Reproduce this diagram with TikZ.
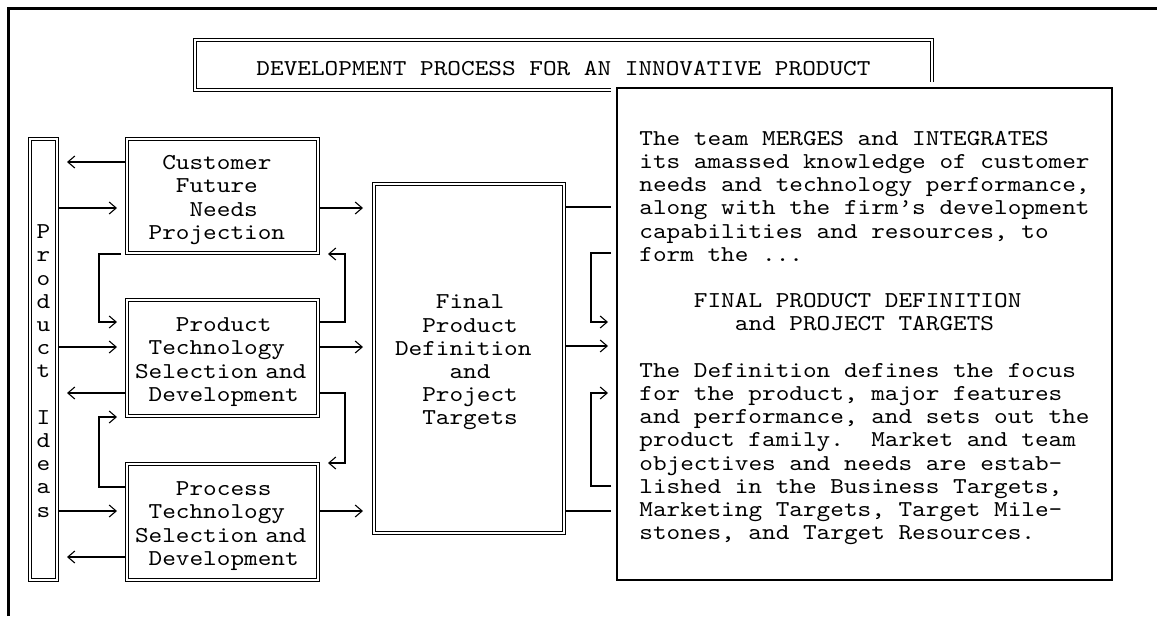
\documentclass[tikz,border=0pt]{standalone}
\usepackage{fontspec}
\setmonofont{lmmono10-regular.otf}[FakeStretch=1.145]
\usetikzlibrary{arrows.meta}
\newcommand{\tstrut}{\rule{0pt}{22pt}}
\newcommand{\monofix}{\fontdimen2\font=\fontcharwd\font`x\relax\fontdimen3\font=0pt\relax\fontdimen4\font=0pt\relax}
\tikzset{
  dbox/.style={draw, double, double distance=2pt, line width=1.3pt, outer sep=0pt, inner sep=0pt},
  txt/.style={font=\ttfamily\fontsize{22.7pt}{23.2pt}\selectfont\monofix\frenchspacing},
  conn/.style={line width=1.6pt},
  arr/.style={conn, -{Straight Barb[length=7pt,width=12pt,line width=1.1pt]}},
  sidebox/.style={dbox, txt, minimum width=191pt, minimum height=116pt, text width=175pt,
                  inner xsep=8pt, align=left}
}
\begin{document}
\begin{tikzpicture}[x=1pt,y=-1pt]
\useasboundingbox (0,0) rectangle (1161,616);
% frame (top and left edges)
\draw[line width=3pt] (8,616) -- (8,8) -- (1157,8);
% title
\node[dbox, txt, minimum width=737pt, minimum height=50pt] (title) at (563.5,65)
  {\tstrut DEVELOPMENT PROCESS FOR AN INNOVATIVE PRODUCT};
% product ideas column
\node[dbox, minimum width=27pt, minimum height=441pt] (ideas) at (43.5,359.5) {};
\node[txt, align=center, inner sep=0pt] (ideastxt) at (43.5,367)
  {\tstrut P\\r\\o\\d\\u\\c\\t\\\mbox{}\\I\\d\\e\\a\\s};
% three source boxes
\node[sidebox, minimum height=114pt] (cust) at (222.5,196)
  {\tstrut\phantom{xx}Customer\\\phantom{xxx}Future\\\phantom{xxxx}Needs\\\phantom{x}Projection};
\node[sidebox] (ptech) at (222.5,358)
  {\tstrut\phantom{xxx}Product\\\phantom{x}Technology\\Selection~and\\\phantom{x}Development};
\node[sidebox] (proc) at (222.5,522)
  {\tstrut\phantom{xxx}Process\\\phantom{x}Technology\\Selection~and\\\phantom{x}Development};
% final box
\node[dbox, txt, minimum width=190pt, minimum height=349pt, text width=148pt, inner xsep=21pt,
      align=left] (final) at (469,358.5)
  {\tstrut\phantom{xxx}Final\\\phantom{xx}Product\\Definition\\\phantom{xxxx}and\\\phantom{xx}Project\\\phantom{xx}Targets};
% text box
\node[draw, line width=1.5pt, fill=white, preaction={draw=white, line width=13pt}, outer sep=0pt,
      txt, minimum width=495pt, minimum height=492pt, inner xsep=0pt,
      inner ysep=0pt, align=left] (tbox) at (864.5,334)
  {\tstrut The team MERGES and INTEGRATES\\
   its amassed knowledge of customer\\
   needs and technology performance,\\
   along with the firm’s development\\
   capabilities and resources, to\\
   form the ...\\
   \mbox{}\\
   \phantom{xxxx}FINAL PRODUCT DEFINITION\\
   \phantom{xxxxxxx}and PROJECT TARGETS\\
   \mbox{}\\
   The Definition defines the focus\\
   for the product, major features\\
   and performance, and sets out the\\
   product family.\ \ Market and team\\
   objectives and needs are estab-\\
   lished in the Business Targets,\\
   Marketing Targets, Target Mile-\\
   stones, and Target Resources.};
% ideas <-> boxes
\draw[arr, shorten <=2.3pt, shorten >=10pt] (cust.west |- 0,162) -- (ideas.east |- 0,162);
\draw[arr, shorten <=2.3pt, shorten >=10pt] (ideas.east |- 0,208) -- (cust.west |- 0,208);
\draw[arr, shorten <=2.3pt, shorten >=10pt] (ideas.east |- 0,347) -- (ptech.west |- 0,347);
\draw[arr, shorten <=2.3pt, shorten >=10pt] (ptech.west |- 0,393) -- (ideas.east |- 0,393);
\draw[arr, shorten <=2.3pt, shorten >=10pt] (ideas.east |- 0,511) -- (proc.west |- 0,511);
\draw[arr, shorten <=2.3pt, shorten >=10pt] (proc.west |- 0,557) -- (ideas.east |- 0,557);
% boxes -> final
\draw[arr, shorten <=2.3pt, shorten >=11pt] (cust.east |- 0,208) -- (final.west |- 0,208);
\draw[arr, shorten <=2.3pt, shorten >=11pt] (ptech.east |- 0,347) -- (final.west |- 0,347);
\draw[arr, shorten <=2.3pt, shorten >=11pt] (proc.east |- 0,511) -- (final.west |- 0,511);
% feedback brackets between boxes
\draw[arr, shorten <=6pt, shorten >=10pt] (cust.west |- 0,254) -- ++(-28,0) |- (ptech.west |- 0,322);
\draw[arr, shorten <=2.3pt, shorten >=10pt] (ptech.east |- 0,322) -- ++(27,0) |- (cust.east |- 0,254);
\draw[arr, shorten <=2.3pt, shorten >=10pt] (ptech.east |- 0,393) -- ++(27,0) |- (proc.east |- 0,463);
\draw[arr, shorten <=2.3pt, shorten >=10pt] (proc.west |- 0,487) -- ++(-28,0) |- (ptech.west |- 0,417);
% final <-> text box
\draw[conn, shorten <=2.3pt, shorten >=6pt] (final.east |- 0,207) -- (tbox.west |- 0,207);
\draw[arr, shorten <=2.3pt, shorten >=9pt] (final.east |- 0,346) -- (tbox.west |- 0,346);
\draw[conn, shorten <=2.3pt, shorten >=6pt] (final.east |- 0,511) -- (tbox.west |- 0,511);
\draw[arr, shorten <=6pt, shorten >=9pt] (tbox.west |- 0,253) -- ++(-26,0) |- (tbox.west |- 0,322);
\draw[arr, shorten <=6pt, shorten >=9pt] (tbox.west |- 0,486) -- ++(-26,0) |- (tbox.west |- 0,393);
\end{tikzpicture}
\end{document}
